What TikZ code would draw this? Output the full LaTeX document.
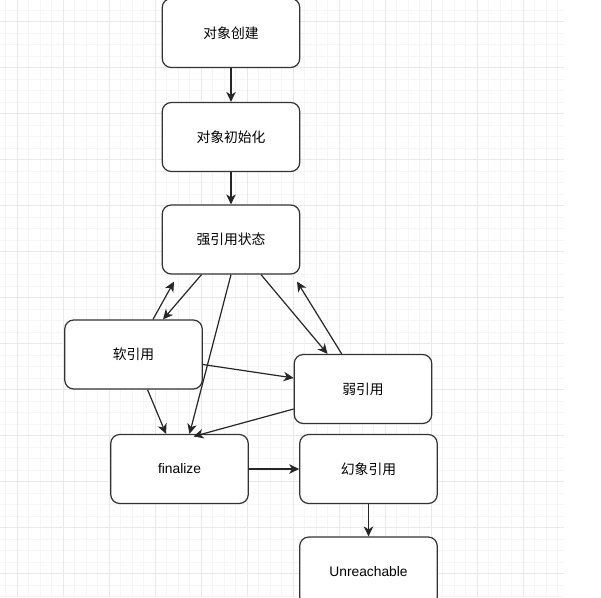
\documentclass[tikz,border=0pt]{standalone}
\usepackage{fontspec}
\setmainfont{Liberation Sans}
\newfontfamily\cjk{Noto Sans CJK SC}
\usetikzlibrary{arrows.meta,positioning}

\definecolor{gridminor}{gray}{0.963}
\definecolor{gridmajor}{gray}{0.915}
\definecolor{boxline}{HTML}{333333}

\begin{document}
\begin{tikzpicture}[
    x=1pt, y=-1pt,
    >={Stealth[length=10pt,width=9.5pt,inset=3pt]},
    every node/.style={font=\fontsize{13.8}{16}\selectfont},
    statebox/.style={
        rectangle,
        rounded corners=9pt,
        draw=boxline,
        line width=1.2pt,
        fill=white,
        minimum width=137.5pt,
        minimum height=69pt,
        inner sep=0pt,
        align=center
    },
    zh/.style={font=\fontsize{13.8}{16}\selectfont\cjk},
    flow/.style={->, line width=1.2pt, black!85}
]

% canvas and grid
\useasboundingbox (0,0) rectangle (601,597);
\fill[white] (0,0) rectangle (601,597);
\begin{scope}
    \clip (0,0) rectangle (564,597);
    \foreach \k in {0,...,48}
        \draw[gridminor, line width=0.8pt] ({5.8+11.5*\k},0) -- ({5.8+11.5*\k},597);
    \foreach \k in {0,...,51}
        \draw[gridminor, line width=0.8pt] (0,{10.2+11.5*\k}) -- (564,{10.2+11.5*\k});
    \foreach \k in {0,...,11}
        \draw[gridmajor, line width=0.9pt] ({17.3+46*\k},0) -- ({17.3+46*\k},597);
    \foreach \k in {0,...,12}
        \draw[gridmajor, line width=0.9pt] (0,{21.7+46*\k}) -- (564,{21.7+46*\k});
\end{scope}

% life cycle states
\node[statebox, zh] (create)  at (231,33)      {对象创建};
\node[statebox, zh] (init)    at (231,137)     {对象初始化};
\node[statebox, zh] (strong)  at (231,239.5)   {强引用状态};
\node[statebox, zh] (soft)    at (133.5,354.5) {软引用};
\node[statebox, zh] (weak)    at (363,389)     {弱引用};
\node[statebox]     (fin)     at (179.5,469)   {finalize};
\node[statebox, zh] (phantom) at (368.5,469)   {幻象引用};
\node[statebox]     (unreach) at (368.5,571.5) {Unreachable};

% transitions
\draw[flow] (create.south) -- (init.north);
\draw[flow] (init.south)   -- (strong.north);

\draw[flow] ([shift={(-29.5,0)}]strong.south) -- ([shift={(29.5,0)}]soft.north);
\draw[flow] ([shift={(19.5,0)}]soft.north)    -- ([shift={(-57,7)}]strong.south);
\draw[flow] (strong.south)                    -- ([shift={(10,0)}]fin.north);
\draw[flow] ([shift={(30,0)}]strong.south)    -- ([shift={(-35.5,0)}]weak.north);
\draw[flow] ([shift={(-21.3,0)}]weak.north)   -- ([shift={(66,7)}]strong.south);

\draw[flow] ([shift={(0,10)}]soft.east)  -- ([shift={(0,-11)}]weak.west);
\draw[flow] ([shift={(14,0)}]soft.south) -- ([shift={(-13.5,0)}]fin.north);
\draw[flow] ([shift={(0,20)}]weak.west)  -- ([shift={(14,2.5)}]fin.north);

\draw[flow] (fin.east)      -- (phantom.west);
\draw[flow] (phantom.south) -- (unreach.north);

\end{tikzpicture}
\end{document}
